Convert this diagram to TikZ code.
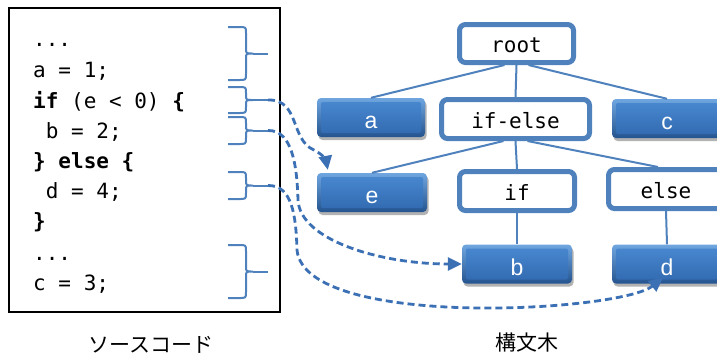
\documentclass[tikz,border=0pt]{standalone}
\usepackage{fontspec}
\setmainfont{Liberation Sans}
\newfontfamily\codefont{DejaVu Sans Mono}
\newfontfamily\jpfont{Noto Sans CJK JP}
\usetikzlibrary{arrows.meta,shadows,calc}

\definecolor{treeblue}{HTML}{4F81BD}
\definecolor{boxtop}{HTML}{6FA6E0}
\definecolor{boxbot}{HTML}{24548F}
\definecolor{facetop}{HTML}{4A8AD2}
\definecolor{facebot}{HTML}{3068AE}
\definecolor{dashblue}{HTML}{3C70B4}

\tikzset{
  codeline/.style={anchor=base west, inner sep=0pt, font=\codefont\fontsize{21}{21}\selectfont},
  keynode/.style={draw=treeblue, line width=5pt, fill=white, rounded corners=6pt,
    inner sep=0pt, text height=18pt, text depth=0pt,
    font=\codefont\fontsize{21}{21}\selectfont},
  leafnode/.style={rounded corners=4pt, inner sep=0pt, minimum width=110pt, minimum height=39pt,
    top color=boxtop, bottom color=boxbot, text=white,
    text height=22pt, text depth=0pt, font=\fontsize{23}{23}\selectfont,
    drop shadow={shadow xshift=1.5pt, shadow yshift=-3pt, opacity=0.5, fill=black!60},
    path picture={\shade[top color=facetop, bottom color=facebot, rounded corners=2pt]
      ([shift={(4pt,-4pt)}]path picture bounding box.north west) rectangle
      ([shift={(-4pt,4pt)}]path picture bounding box.south east);}},
  edge/.style={draw=treeblue, line width=2pt},
  brc/.style={draw=treeblue, line width=2pt, line join=round},
  link/.style={draw=dashblue, line width=2.8pt, dash pattern=on 7pt off 4pt,
    -{Triangle[length=14pt,width=13pt]}},
  caption/.style={font=\jpfont\fontsize{21}{21}\selectfont, inner sep=0pt}
}

% curly brace beside the source listing: top y, bottom y, name of its tip
\newcommand\srcbrace[3]{%
  \pgfmathsetmacro\bmid{(#1+#2)/2}%
  \draw[brc] (228,#1) -- (239,#1) .. controls (246,#1) .. (246,{#1+6})
    -- (246,{\bmid-5}) .. controls (246,\bmid) .. (253,\bmid)
    .. controls (246,\bmid) .. (246,{\bmid+5})
    -- (246,{#2-6}) .. controls (246,#2) .. (239,#2) -- (228,#2);
  \draw[brc] (253,\bmid) -- (268,\bmid);
  \coordinate (#3) at (268,\bmid);
}

\begin{document}
\begin{tikzpicture}[x=1pt,y=-1pt]
\useasboundingbox (0,0) rectangle (717,360);

% source listing
\draw[line width=2pt] (9,8) rectangle (280,312);
\node[codeline] (l1) at (33,46)  {...};
\node[codeline] (l2) at (33,77)  {a = 1;};
\node[codeline] (l3) at (33,108) {\textbf{if} (e < 0) \textbf{\{}};
\node[codeline] (l4) at (33,138) {\ b = 2;};
\node[codeline] (l5) at (33,168) {\textbf{\} else \{}};
\node[codeline] (l6) at (33,198) {\ d = 4;};
\node[codeline] (l7) at (33,228) {\textbf{\}}};
\node[codeline] (l8) at (33,260) {...};
\node[codeline] (l9) at (33,290) {c = 3;};

\srcbrace{27}{80}{t1}
\srcbrace{87}{113}{t2}
\srcbrace{117}{144}{t3}
\srcbrace{172}{199}{t4}
\srcbrace{245}{298}{t5}

% syntax tree
\node[keynode, minimum width=114pt, minimum height=38pt] (root) at (516.5,43.5) {root};
\node[leafnode, minimum width=108pt] (a) at (371,117.5) {a};
\node[keynode, minimum width=148pt, minimum height=39pt] (ifelse) at (515.5,119) {if-else};
\node[leafnode] (c) at (667,118.5) {c};
\node[leafnode] (e) at (372,192.5) {e};
\node[keynode, minimum width=115pt, minimum height=39pt] (if) at (517,191) {if};
\node[keynode, minimum width=115pt, minimum height=39pt] (else) at (666,189) {else};
\node[leafnode] (b) at (517,264) {b};
\node[leafnode] (d) at (667,264) {d};

\draw[edge] ([xshift=-12pt]root.south) -- (a.north);
\draw[edge] (root.south) -- (ifelse.north);
\draw[edge] ([xshift=12pt]root.south) -- (c.north);
\draw[edge] ([xshift=-12pt]ifelse.south) -- (e.north);
\draw[edge] (ifelse.south) -- (if.north);
\draw[edge] ([xshift=12pt]ifelse.south) -- ([xshift=-8pt]else.north);
\draw[edge] (if.south) -- (b.north);
\draw[edge] (else.south) -- (d.north);

% links from the listing to the tree
\draw[link] (t2) .. controls (300,99) and (290,140) .. (314,150)
  .. controls (322,154) and (326,160) .. ($(e.north west)+(11,-3)$);
\draw[link] (t3) .. controls (292,130) and (297,165) .. (298,200)
  .. controls (300,240) and (380,264) .. (b.west);
\draw[link] (t4) .. controls (292,185) and (296,215) .. (297,250)
  .. controls (305,330) and (620,312) .. ($(d.south)+(-4,-6)$);

% captions
\node[caption] (cap1) at (151,345) {ソースコード};
\node[caption] (cap2) at (527,343) {構文木};
\end{tikzpicture}
\end{document}
